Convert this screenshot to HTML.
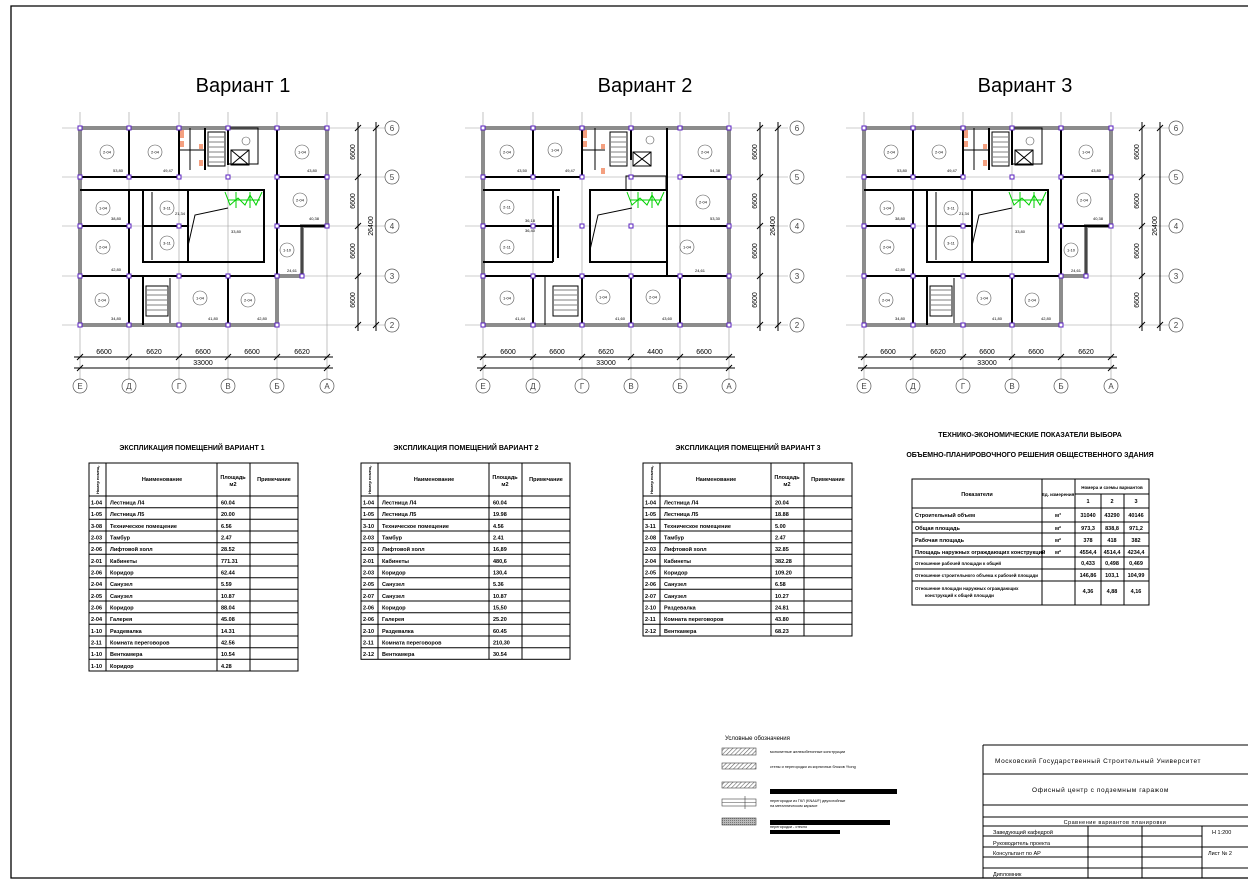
<!DOCTYPE html>
<html><head><meta charset="utf-8"><style>
html,body{margin:0;padding:0;background:#fff;}
svg{display:block;font-family:"Liberation Sans",sans-serif;}
.t{font-size:5.5px;font-weight:bold;fill:#000;}
.s{font-size:4px;fill:#000;}
.d{font-size:7px;fill:#000;}
.g{stroke:#9a9a9a;stroke-width:0.6;fill:none;}
.w{stroke:#000;stroke-width:2;fill:none;}
.tw{stroke:#000;stroke-width:1;fill:none;}
.ow{stroke:#8c8c8c;stroke-width:4;fill:none;}
.c{fill:#fff;stroke:#555;stroke-width:0.6;}
.ax{fill:#fff;stroke:#555;stroke-width:0.7;}
.pq{fill:#fff;stroke:#5a20c0;stroke-width:1;}
.tl{stroke:#000;stroke-width:1;fill:none;}
</style></head><body>
<svg width="1260" height="886" viewBox="0 0 1260 886" xmlns="http://www.w3.org/2000/svg">
<defs>
<pattern id="h" width="3" height="3" patternUnits="userSpaceOnUse" patternTransform="rotate(45)"><rect width="3" height="3" fill="#fff"/><line x1="0" y1="0" x2="0" y2="3" stroke="#666" stroke-width="1.2"/></pattern>
<pattern id="h2" width="2" height="2" patternUnits="userSpaceOnUse"><rect width="2" height="2" fill="#bbb"/><rect width="1" height="1" fill="#777"/></pattern>
</defs>
<rect width="1260" height="886" fill="#fff"/>
<polyline points="1248,6 11,6 11,878 1248,878" fill="none" stroke="#000" stroke-width="1.3"/>

<!-- titles -->
<text x="243" y="92" font-size="20" text-anchor="middle">Вариант 1</text>
<text x="645" y="92" font-size="20" text-anchor="middle">Вариант 2</text>
<text x="1025" y="92" font-size="20" text-anchor="middle">Вариант 3</text>

<!-- ===== PLAN 1 ===== -->
<g id="p1">
<g class="g">
<line x1="80" y1="112" x2="80" y2="379"/><line x1="129" y1="112" x2="129" y2="379"/><line x1="179" y1="112" x2="179" y2="379"/><line x1="228" y1="112" x2="228" y2="379"/><line x1="277" y1="112" x2="277" y2="379"/><line x1="327" y1="112" x2="327" y2="379"/>
<line x1="62" y1="128" x2="385" y2="128"/><line x1="62" y1="177" x2="385" y2="177"/><line x1="62" y1="226" x2="385" y2="226"/><line x1="62" y1="276" x2="385" y2="276"/><line x1="62" y1="325" x2="385" y2="325"/>
</g>
<polygon class="ow" points="80,128 327,128 327,226 302,226 302,276 277,276 277,325 80,325"/>
<g class="w">
<line x1="80" y1="177" x2="179" y2="177"/><line x1="277" y1="177" x2="327" y2="177"/>
<line x1="80" y1="190" x2="143" y2="190"/>
<rect x="143" y="190" width="121" height="72"/>
<line x1="129" y1="128" x2="129" y2="177"/><line x1="179" y1="128" x2="179" y2="177"/>
<line x1="129" y1="190" x2="129" y2="325"/>
<line x1="80" y1="226" x2="129" y2="226"/><line x1="277" y1="226" x2="327" y2="226"/>
<line x1="277" y1="128" x2="277" y2="276"/>
<line x1="80" y1="276" x2="277" y2="276"/>
<line x1="143" y1="276" x2="143" y2="325"/><line x1="228" y1="276" x2="228" y2="325"/>
<line x1="205" y1="128" x2="205" y2="170"/><line x1="228" y1="128" x2="228" y2="165"/>
<line x1="143" y1="226" x2="188" y2="226"/><line x1="188" y1="190" x2="188" y2="262"/>
</g>
<g class="tw">
<line x1="152" y1="192" x2="152" y2="260"/><line x1="302" y1="226" x2="302" y2="276"/>
<polyline points="188,246 195,215 228,208"/>
<line x1="170" y1="278" x2="170" y2="323"/>
<rect x="208" y="132" width="17" height="34"/><rect x="146" y="286" width="22" height="30"/>
<rect x="231" y="150" width="18" height="15"/><line x1="231" y1="150" x2="249" y2="165"/><line x1="249" y1="150" x2="231" y2="165"/>
<line x1="179" y1="150" x2="205" y2="150"/><line x1="190" y1="128" x2="190" y2="170"/>
<rect x="228" y="128" width="30" height="36"/>
</g>
<g stroke="#000" stroke-width="0.5">
<line x1="209" y1="137" x2="224" y2="137"/><line x1="209" y1="142" x2="224" y2="142"/><line x1="209" y1="147" x2="224" y2="147"/><line x1="209" y1="152" x2="224" y2="152"/><line x1="209" y1="157" x2="224" y2="157"/><line x1="209" y1="162" x2="224" y2="162"/>
<line x1="147" y1="290" x2="167" y2="290"/><line x1="147" y1="295" x2="167" y2="295"/><line x1="147" y1="300" x2="167" y2="300"/><line x1="147" y1="305" x2="167" y2="305"/><line x1="147" y1="310" x2="167" y2="310"/>
</g>
<g fill="#f4a080"><rect x="180" y="130" width="4" height="8"/><rect x="180" y="141" width="4" height="6"/><rect x="199" y="144" width="4" height="5"/><rect x="199" y="160" width="4" height="6"/></g>
<g stroke="#00d000" stroke-width="1" fill="none"><polyline points="225,192 230,205 238,198 245,205 250,195 256,205 262,192"/><line x1="236" y1="192" x2="236" y2="208"/><line x1="250" y1="192" x2="250" y2="208"/><line x1="228" y1="200" x2="260" y2="200"/></g>
<g class="c">
<circle cx="107" cy="152" r="7"/><circle cx="155" cy="152" r="7"/><circle cx="302" cy="152" r="7"/><circle cx="300" cy="200" r="7"/><circle cx="103" cy="208" r="7"/><circle cx="103" cy="247" r="7"/><circle cx="102" cy="300" r="7"/><circle cx="200" cy="298" r="7"/><circle cx="248" cy="300" r="7"/><circle cx="167" cy="208" r="7"/><circle cx="167" cy="243" r="7"/><circle cx="287" cy="250" r="7"/><circle cx="246" cy="141" r="4"/>
</g>
<g class="s" text-anchor="middle">
<text x="107" y="153.5">2-04</text><text x="155" y="153.5">2-04</text><text x="302" y="153.5">1-04</text><text x="300" y="201.5">2-04</text><text x="103" y="209.5">1-04</text><text x="103" y="248.5">2-04</text><text x="102" y="301.5">2-04</text><text x="200" y="299.5">1-04</text><text x="248" y="301.5">2-04</text><text x="167" y="209.5">3-11</text><text x="167" y="244.5">3-11</text><text x="287" y="251.5">1-10</text>
<text x="118" y="172">53,80</text><text x="168" y="172">49,47</text><text x="312" y="172">43,80</text><text x="314" y="220">40,38</text><text x="116" y="220">38,80</text><text x="116" y="271">42,80</text><text x="116" y="320">34,80</text><text x="213" y="320">41,80</text><text x="262" y="320">42,80</text><text x="292" y="272">24,61</text><text x="236" y="233">33,80</text><text x="180" y="215">21,34</text>
</g>
<g class="pq">
<rect x="78" y="126" width="4" height="4"/><rect x="127" y="126" width="4" height="4"/><rect x="177" y="126" width="4" height="4"/><rect x="226" y="126" width="4" height="4"/><rect x="275" y="126" width="4" height="4"/><rect x="325" y="126" width="4" height="4"/>
<rect x="78" y="175" width="4" height="4"/><rect x="127" y="175" width="4" height="4"/><rect x="177" y="175" width="4" height="4"/><rect x="226" y="175" width="4" height="4"/><rect x="275" y="175" width="4" height="4"/><rect x="325" y="175" width="4" height="4"/>
<rect x="78" y="224" width="4" height="4"/><rect x="127" y="224" width="4" height="4"/><rect x="177" y="224" width="4" height="4"/><rect x="275" y="224" width="4" height="4"/><rect x="325" y="224" width="4" height="4"/>
<rect x="78" y="274" width="4" height="4"/><rect x="127" y="274" width="4" height="4"/><rect x="177" y="274" width="4" height="4"/><rect x="226" y="274" width="4" height="4"/><rect x="275" y="274" width="4" height="4"/><rect x="300" y="274" width="4" height="4"/>
<rect x="78" y="323" width="4" height="4"/><rect x="127" y="323" width="4" height="4"/><rect x="177" y="323" width="4" height="4"/><rect x="226" y="323" width="4" height="4"/><rect x="275" y="323" width="4" height="4"/>
</g>
<!-- dims -->
<g class="tl" stroke-width="0.8">
<line x1="74" y1="357" x2="333" y2="357"/><line x1="74" y1="368" x2="333" y2="368"/>
<line x1="358" y1="122" x2="358" y2="331"/><line x1="376" y1="122" x2="376" y2="331"/>
<path d="M77,360l6,-6M126,360l6,-6M176,360l6,-6M225,360l6,-6M274,360l6,-6M324,360l6,-6M77,371l6,-6M324,371l6,-6M355,131l6,-6M355,180l6,-6M355,229l6,-6M355,279l6,-6M355,328l6,-6M373,131l6,-6M373,328l6,-6"/>
</g>
<g class="d" text-anchor="middle">
<text x="104" y="354">6600</text><text x="154" y="354">6620</text><text x="203" y="354">6600</text><text x="252" y="354">6600</text><text x="302" y="354">6620</text><text x="203" y="365">33000</text>
<text transform="translate(355,152) rotate(-90)">6600</text><text transform="translate(355,201) rotate(-90)">6600</text><text transform="translate(355,251) rotate(-90)">6600</text><text transform="translate(355,300) rotate(-90)">6600</text><text transform="translate(373,226) rotate(-90)">26400</text>
</g>
<g class="ax"><circle cx="80" cy="386" r="7"/><circle cx="129" cy="386" r="7"/><circle cx="179" cy="386" r="7"/><circle cx="228" cy="386" r="7"/><circle cx="277" cy="386" r="7"/><circle cx="327" cy="386" r="7"/>
<circle cx="392" cy="128" r="7"/><circle cx="392" cy="177" r="7"/><circle cx="392" cy="226" r="7"/><circle cx="392" cy="276" r="7"/><circle cx="392" cy="325" r="7"/></g>
<g font-size="8" fill="#444" text-anchor="middle">
<text x="80" y="389">Е</text><text x="129" y="389">Д</text><text x="179" y="389">Г</text><text x="228" y="389">В</text><text x="277" y="389">Б</text><text x="327" y="389">А</text>
<text x="392" y="131">6</text><text x="392" y="180">5</text><text x="392" y="229">4</text><text x="392" y="279">3</text><text x="392" y="328">2</text>
</g>
</g>

<!-- PLAN 3 reuse -->
<use href="#p1" transform="translate(784,0)"/>

<!-- ===== PLAN 2 ===== -->
<g>
<g class="g">
<line x1="483" y1="112" x2="483" y2="379"/><line x1="533" y1="112" x2="533" y2="379"/><line x1="582" y1="112" x2="582" y2="379"/><line x1="631" y1="112" x2="631" y2="379"/><line x1="680" y1="112" x2="680" y2="379"/><line x1="729" y1="112" x2="729" y2="379"/>
<line x1="465" y1="128" x2="788" y2="128"/><line x1="465" y1="177" x2="788" y2="177"/><line x1="465" y1="226" x2="788" y2="226"/><line x1="465" y1="276" x2="788" y2="276"/><line x1="465" y1="325" x2="788" y2="325"/>
</g>
<rect class="ow" x="483" y="128" width="246" height="197"/>
<g class="w">
<line x1="483" y1="177" x2="582" y2="177"/><line x1="680" y1="177" x2="729" y2="177"/>
<line x1="483" y1="190" x2="560" y2="190"/>
<line x1="483" y1="226" x2="553" y2="226"/><line x1="483" y1="262" x2="553" y2="262"/>
<line x1="553" y1="190" x2="553" y2="262"/><line x1="558" y1="196" x2="558" y2="258"/>
<rect x="590" y="190" width="77" height="72"/>
<line x1="667" y1="190" x2="667" y2="276"/><line x1="667" y1="226" x2="729" y2="226"/>
<line x1="483" y1="276" x2="729" y2="276"/>
<line x1="533" y1="128" x2="533" y2="177"/><line x1="582" y1="128" x2="582" y2="177"/>
<line x1="533" y1="276" x2="533" y2="325"/><line x1="582" y1="276" x2="582" y2="325"/><line x1="631" y1="276" x2="631" y2="325"/><line x1="680" y1="276" x2="680" y2="325"/>
<line x1="631" y1="128" x2="631" y2="160"/><line x1="667" y1="128" x2="667" y2="190"/>
</g>
<g class="tw">
<polyline points="590,250 598,215 632,208"/>
<rect x="610" y="132" width="17" height="34"/><rect x="553" y="286" width="25" height="30"/>
<rect x="633" y="152" width="18" height="14"/><line x1="633" y1="152" x2="651" y2="166"/><line x1="651" y1="152" x2="633" y2="166"/>
<line x1="582" y1="150" x2="605" y2="150"/><line x1="595" y1="128" x2="595" y2="170"/><line x1="545" y1="276" x2="545" y2="325"/>
<rect x="626" y="176" width="40" height="14"/>
</g>
<g stroke="#000" stroke-width="0.5">
<line x1="611" y1="137" x2="626" y2="137"/><line x1="611" y1="142" x2="626" y2="142"/><line x1="611" y1="147" x2="626" y2="147"/><line x1="611" y1="152" x2="626" y2="152"/><line x1="611" y1="157" x2="626" y2="157"/><line x1="611" y1="162" x2="626" y2="162"/>
<line x1="554" y1="290" x2="577" y2="290"/><line x1="554" y1="295" x2="577" y2="295"/><line x1="554" y1="300" x2="577" y2="300"/><line x1="554" y1="305" x2="577" y2="305"/><line x1="554" y1="310" x2="577" y2="310"/>
</g>
<g fill="#f4a080"><rect x="583" y="130" width="4" height="8"/><rect x="583" y="141" width="4" height="6"/><rect x="601" y="144" width="4" height="5"/><rect x="601" y="168" width="4" height="6"/></g>
<g stroke="#00d000" stroke-width="1" fill="none"><polyline points="627,192 632,205 640,198 647,205 652,195 658,205 664,192"/><line x1="638" y1="192" x2="638" y2="208"/><line x1="652" y1="192" x2="652" y2="208"/><line x1="630" y1="200" x2="662" y2="200"/></g>
<g class="c">
<circle cx="507" cy="152" r="7"/><circle cx="555" cy="150" r="7"/><circle cx="705" cy="152" r="7"/><circle cx="703" cy="202" r="7"/><circle cx="507" cy="207" r="7"/><circle cx="507" cy="247" r="7"/><circle cx="507" cy="298" r="7"/><circle cx="603" cy="297" r="7"/><circle cx="653" cy="297" r="7"/><circle cx="687" cy="247" r="7"/><circle cx="650" cy="140" r="4"/>
</g>
<g class="s" text-anchor="middle">
<text x="507" y="153.5">2-04</text><text x="555" y="151.5">1-04</text><text x="705" y="153.5">2-04</text><text x="703" y="203.5">2-04</text><text x="507" y="208.5">2-11</text><text x="507" y="248.5">2-11</text><text x="507" y="299.5">1-04</text><text x="603" y="298.5">1-04</text><text x="653" y="298.5">2-04</text><text x="687" y="248.5">1-04</text>
<text x="522" y="172">43,50</text><text x="570" y="172">49,47</text><text x="715" y="172">54,38</text><text x="715" y="220">53,30</text><text x="530" y="222">36,18</text><text x="530" y="232">36,40</text><text x="520" y="320">41,44</text><text x="620" y="320">41,60</text><text x="667" y="320">43,60</text><text x="700" y="272">24,61</text>
</g>
<g class="pq">
<rect x="481" y="126" width="4" height="4"/><rect x="531" y="126" width="4" height="4"/><rect x="580" y="126" width="4" height="4"/><rect x="629" y="126" width="4" height="4"/><rect x="678" y="126" width="4" height="4"/><rect x="727" y="126" width="4" height="4"/>
<rect x="481" y="175" width="4" height="4"/><rect x="531" y="175" width="4" height="4"/><rect x="580" y="175" width="4" height="4"/><rect x="629" y="175" width="4" height="4"/><rect x="678" y="175" width="4" height="4"/><rect x="727" y="175" width="4" height="4"/>
<rect x="481" y="224" width="4" height="4"/><rect x="531" y="224" width="4" height="4"/><rect x="580" y="224" width="4" height="4"/><rect x="629" y="224" width="4" height="4"/><rect x="727" y="224" width="4" height="4"/>
<rect x="481" y="274" width="4" height="4"/><rect x="531" y="274" width="4" height="4"/><rect x="580" y="274" width="4" height="4"/><rect x="629" y="274" width="4" height="4"/><rect x="678" y="274" width="4" height="4"/><rect x="727" y="274" width="4" height="4"/>
<rect x="481" y="323" width="4" height="4"/><rect x="531" y="323" width="4" height="4"/><rect x="580" y="323" width="4" height="4"/><rect x="629" y="323" width="4" height="4"/><rect x="678" y="323" width="4" height="4"/><rect x="727" y="323" width="4" height="4"/>
</g>
<g class="tl" stroke-width="0.8">
<line x1="477" y1="357" x2="735" y2="357"/><line x1="477" y1="368" x2="735" y2="368"/>
<line x1="760" y1="122" x2="760" y2="331"/><line x1="778" y1="122" x2="778" y2="331"/>
<path d="M480,360l6,-6M530,360l6,-6M579,360l6,-6M628,360l6,-6M677,360l6,-6M726,360l6,-6M480,371l6,-6M726,371l6,-6M757,131l6,-6M757,180l6,-6M757,229l6,-6M757,279l6,-6M757,328l6,-6M775,131l6,-6M775,328l6,-6"/>
</g>
<g class="d" text-anchor="middle">
<text x="508" y="354">6600</text><text x="557" y="354">6600</text><text x="606" y="354">6620</text><text x="655" y="354">4400</text><text x="704" y="354">6600</text><text x="606" y="365">33000</text>
<text transform="translate(757,152) rotate(-90)">6600</text><text transform="translate(757,201) rotate(-90)">6600</text><text transform="translate(757,251) rotate(-90)">6600</text><text transform="translate(757,300) rotate(-90)">6600</text><text transform="translate(775,226) rotate(-90)">26400</text>
</g>
<g class="ax"><circle cx="483" cy="386" r="7"/><circle cx="533" cy="386" r="7"/><circle cx="582" cy="386" r="7"/><circle cx="631" cy="386" r="7"/><circle cx="680" cy="386" r="7"/><circle cx="729" cy="386" r="7"/>
<circle cx="797" cy="128" r="7"/><circle cx="797" cy="177" r="7"/><circle cx="797" cy="226" r="7"/><circle cx="797" cy="276" r="7"/><circle cx="797" cy="325" r="7"/></g>
<g font-size="8" fill="#444" text-anchor="middle">
<text x="483" y="389">Е</text><text x="533" y="389">Д</text><text x="582" y="389">Г</text><text x="631" y="389">В</text><text x="680" y="389">Б</text><text x="729" y="389">А</text>
<text x="797" y="131">6</text><text x="797" y="180">5</text><text x="797" y="229">4</text><text x="797" y="279">3</text><text x="797" y="328">2</text>
</g>
</g>

<!-- ===== TABLE 1 ===== -->
<text x="192" y="450" font-size="7" font-weight="bold" text-anchor="middle">ЭКСПЛИКАЦИЯ ПОМЕЩЕНИЙ ВАРИАНТ 1</text>
<g class="tl">
<rect x="89" y="463" width="209" height="208"/>
<path d="M106,463V671M217,463V671M250,463V671M89,496H298M89,507.7H298M89,519.3H298M89,531H298M89,542.7H298M89,554.3H298M89,566H298M89,577.7H298M89,589.3H298M89,601H298M89,612.7H298M89,624.3H298M89,636H298M89,647.7H298M89,659.3H298"/>
</g>
<g class="t">
<text transform="translate(99,494) rotate(-90)" font-size="4">Номер помещ.</text>
<text x="162" y="481" text-anchor="middle">Наименование</text><text x="233" y="479" text-anchor="middle">Площадь</text><text x="233" y="486" text-anchor="middle">м2</text><text x="274" y="481" text-anchor="middle">Примечание</text>
<text x="91" y="504.5">1-04</text><text x="110" y="504.5">Лестница Л4</text><text x="221" y="504.5">60.04</text>
<text x="91" y="516">1-05</text><text x="110" y="516">Лестница Л5</text><text x="221" y="516">20.00</text>
<text x="91" y="528">3-08</text><text x="110" y="528">Техническое помещение</text><text x="221" y="528">6.56</text>
<text x="91" y="539.5">2-03</text><text x="110" y="539.5">Тамбур</text><text x="221" y="539.5">2.47</text>
<text x="91" y="551">2-06</text><text x="110" y="551">Лифтовой холл</text><text x="221" y="551">28.52</text>
<text x="91" y="563">2-01</text><text x="110" y="563">Кабинеты</text><text x="221" y="563">771.31</text>
<text x="91" y="574.5">2-06</text><text x="110" y="574.5">Коридор</text><text x="221" y="574.5">62.44</text>
<text x="91" y="586">2-04</text><text x="110" y="586">Санузел</text><text x="221" y="586">5.59</text>
<text x="91" y="598">2-05</text><text x="110" y="598">Санузел</text><text x="221" y="598">10.87</text>
<text x="91" y="609.5">2-06</text><text x="110" y="609.5">Коридор</text><text x="221" y="609.5">88.04</text>
<text x="91" y="621">2-04</text><text x="110" y="621">Галерея</text><text x="221" y="621">45.08</text>
<text x="91" y="633">1-10</text><text x="110" y="633">Раздевалка</text><text x="221" y="633">14.31</text>
<text x="91" y="644.5">2-11</text><text x="110" y="644.5">Комната переговоров</text><text x="221" y="644.5">42.56</text>
<text x="91" y="656">1-10</text><text x="110" y="656">Венткамера</text><text x="221" y="656">10.54</text>
<text x="91" y="668">1-10</text><text x="110" y="668">Коридор</text><text x="221" y="668">4.28</text>
</g>

<!-- ===== TABLE 2 ===== -->
<text x="466" y="450" font-size="7" font-weight="bold" text-anchor="middle">ЭКСПЛИКАЦИЯ ПОМЕЩЕНИЙ ВАРИАНТ 2</text>
<g class="tl">
<rect x="361" y="463" width="209" height="196.3"/>
<path d="M378,463V659.3M489,463V659.3M522,463V659.3M361,496H570M361,507.7H570M361,519.3H570M361,531H570M361,542.7H570M361,554.3H570M361,566H570M361,577.7H570M361,589.3H570M361,601H570M361,612.7H570M361,624.3H570M361,636H570M361,647.7H570"/>
</g>
<g class="t">
<text transform="translate(371,494) rotate(-90)" font-size="4">Номер помещ.</text>
<text x="434" y="481" text-anchor="middle">Наименование</text><text x="505" y="479" text-anchor="middle">Площадь</text><text x="505" y="486" text-anchor="middle">м2</text><text x="546" y="481" text-anchor="middle">Примечание</text>
<text x="363" y="504.5">1-04</text><text x="382" y="504.5">Лестница Л4</text><text x="493" y="504.5">60.04</text>
<text x="363" y="516">1-05</text><text x="382" y="516">Лестница Л5</text><text x="493" y="516">19.98</text>
<text x="363" y="528">3-10</text><text x="382" y="528">Техническое помещение</text><text x="493" y="528">4.56</text>
<text x="363" y="539.5">2-03</text><text x="382" y="539.5">Тамбур</text><text x="493" y="539.5">2.41</text>
<text x="363" y="551">2-03</text><text x="382" y="551">Лифтовой холл</text><text x="493" y="551">16,89</text>
<text x="363" y="563">2-01</text><text x="382" y="563">Кабинеты</text><text x="493" y="563">480,6</text>
<text x="363" y="574.5">2-03</text><text x="382" y="574.5">Коридор</text><text x="493" y="574.5">130,4</text>
<text x="363" y="586">2-05</text><text x="382" y="586">Санузел</text><text x="493" y="586">5.36</text>
<text x="363" y="598">2-07</text><text x="382" y="598">Санузел</text><text x="493" y="598">10.87</text>
<text x="363" y="609.5">2-06</text><text x="382" y="609.5">Коридор</text><text x="493" y="609.5">15,50</text>
<text x="363" y="621">2-06</text><text x="382" y="621">Галерея</text><text x="493" y="621">25.20</text>
<text x="363" y="633">2-10</text><text x="382" y="633">Раздевалка</text><text x="493" y="633">60.45</text>
<text x="363" y="644.5">2-11</text><text x="382" y="644.5">Комната переговоров</text><text x="493" y="644.5">210,30</text>
<text x="363" y="656">2-12</text><text x="382" y="656">Венткамера</text><text x="493" y="656">30.54</text>
</g>

<!-- ===== TABLE 3 ===== -->
<text x="748" y="450" font-size="7" font-weight="bold" text-anchor="middle">ЭКСПЛИКАЦИЯ ПОМЕЩЕНИЙ ВАРИАНТ 3</text>
<g class="tl">
<rect x="643" y="463" width="209" height="173"/>
<path d="M660,463V636M771,463V636M804,463V636M643,496H852M643,507.7H852M643,519.3H852M643,531H852M643,542.7H852M643,554.3H852M643,566H852M643,577.7H852M643,589.3H852M643,601H852M643,612.7H852M643,624.3H852"/>
</g>
<g class="t">
<text transform="translate(653,494) rotate(-90)" font-size="4">Номер помещ.</text>
<text x="716" y="481" text-anchor="middle">Наименование</text><text x="787" y="479" text-anchor="middle">Площадь</text><text x="787" y="486" text-anchor="middle">м2</text><text x="828" y="481" text-anchor="middle">Примечание</text>
<text x="645" y="504.5">1-04</text><text x="664" y="504.5">Лестница Л4</text><text x="775" y="504.5">20.04</text>
<text x="645" y="516">1-05</text><text x="664" y="516">Лестница Л5</text><text x="775" y="516">18.88</text>
<text x="645" y="528">3-11</text><text x="664" y="528">Техническое помещение</text><text x="775" y="528">5.00</text>
<text x="645" y="539.5">2-08</text><text x="664" y="539.5">Тамбур</text><text x="775" y="539.5">2.47</text>
<text x="645" y="551">2-03</text><text x="664" y="551">Лифтовой холл</text><text x="775" y="551">32.85</text>
<text x="645" y="563">2-04</text><text x="664" y="563">Кабинеты</text><text x="775" y="563">382.28</text>
<text x="645" y="574.5">2-05</text><text x="664" y="574.5">Коридор</text><text x="775" y="574.5">109.20</text>
<text x="645" y="586">2-06</text><text x="664" y="586">Санузел</text><text x="775" y="586">6.58</text>
<text x="645" y="598">2-07</text><text x="664" y="598">Санузел</text><text x="775" y="598">10.27</text>
<text x="645" y="609.5">2-10</text><text x="664" y="609.5">Раздевалка</text><text x="775" y="609.5">24.81</text>
<text x="645" y="621">2-11</text><text x="664" y="621">Комната переговоров</text><text x="775" y="621">43.80</text>
<text x="645" y="633">2-12</text><text x="664" y="633">Венткамера</text><text x="775" y="633">68.23</text>
</g>

<!-- ===== TABLE 4 ===== -->
<text x="1030" y="437" font-size="7" font-weight="bold" text-anchor="middle">ТЕХНИКО-ЭКОНОМИЧЕСКИЕ ПОКАЗАТЕЛИ ВЫБОРА</text>
<text x="1030" y="457" font-size="7" font-weight="bold" text-anchor="middle">ОБЪЕМНО-ПЛАНИРОВОЧНОГО РЕШЕНИЯ ОБЩЕСТВЕННОГО ЗДАНИЯ</text>
<g class="tl">
<rect x="912" y="479" width="237" height="126"/>
<path d="M1042,479V605M1075,479V605M1075,494H1149M1101,494V605M1124,494V605M912,508H1149M912,522H1149M912,533H1149M912,546H1149M912,557H1149M912,569H1149M912,581H1149"/>
</g>
<g class="t">
<text x="977" y="496" text-anchor="middle">Показатели</text><text x="1058" y="496" text-anchor="middle" font-size="4.5">Ед. измерения</text>
<text x="1112" y="489" text-anchor="middle" font-size="4.5">Номера и схемы вариантов</text>
<text x="1088" y="503" text-anchor="middle">1</text><text x="1112" y="503" text-anchor="middle">2</text><text x="1136" y="503" text-anchor="middle">3</text>
<text x="915" y="517">Строительный объем</text><text x="1058" y="517" text-anchor="middle">м³</text><text x="1088" y="517" text-anchor="middle">31040</text><text x="1112" y="517" text-anchor="middle">43290</text><text x="1136" y="517" text-anchor="middle">40146</text>
<text x="915" y="530">Общая площадь</text><text x="1058" y="530" text-anchor="middle">м²</text><text x="1088" y="530" text-anchor="middle">973,3</text><text x="1112" y="530" text-anchor="middle">838,8</text><text x="1136" y="530" text-anchor="middle">971,2</text>
<text x="915" y="542">Рабочая площадь</text><text x="1058" y="542" text-anchor="middle">м²</text><text x="1088" y="542" text-anchor="middle">378</text><text x="1112" y="542" text-anchor="middle">418</text><text x="1136" y="542" text-anchor="middle">382</text>
<text x="915" y="554">Площадь наружных ограждающих конструкций</text><text x="1058" y="554" text-anchor="middle">м²</text><text x="1088" y="554" text-anchor="middle">4554,4</text><text x="1112" y="554" text-anchor="middle">4514,4</text><text x="1136" y="554" text-anchor="middle">4234,4</text>
<text x="915" y="565" font-size="4.5">Отношение рабочей площади к общей</text><text x="1088" y="565" text-anchor="middle">0,433</text><text x="1112" y="565" text-anchor="middle">0,498</text><text x="1136" y="565" text-anchor="middle">0,469</text>
<text x="915" y="577" font-size="4.5">Отношение строительного объема к рабочей площади</text><text x="1088" y="577" text-anchor="middle">146,86</text><text x="1112" y="577" text-anchor="middle">103,1</text><text x="1136" y="577" text-anchor="middle">104,99</text>
<text x="915" y="590" font-size="4.5">Отношение площади наружных ограждающих</text><text x="925" y="597" font-size="4.5">конструкций к общей площади</text><text x="1088" y="593" text-anchor="middle">4,36</text><text x="1112" y="593" text-anchor="middle">4,88</text><text x="1136" y="593" text-anchor="middle">4,16</text>
</g>

<!-- ===== LEGEND ===== -->
<text x="725" y="740" font-size="6">Условные обозначения</text>
<rect x="722" y="748" width="34" height="7" fill="url(#h)" stroke="#444" stroke-width="0.6"/>
<rect x="722" y="763" width="34" height="6" fill="url(#h)" stroke="#444" stroke-width="0.6"/>
<rect x="722" y="782" width="34" height="6" fill="url(#h)" stroke="#444" stroke-width="0.6"/>
<g stroke="#444" stroke-width="0.6" fill="none"><rect x="722" y="799" width="34" height="7"/><line x1="745" y1="796" x2="745" y2="809"/><line x1="722" y1="802.5" x2="756" y2="802.5"/></g>
<rect x="722" y="818" width="34" height="7" fill="url(#h2)" stroke="#444" stroke-width="0.6"/>
<g font-size="3.8" fill="#000">
<text x="770" y="753">монолитные железобетонные конструкции</text>
<text x="770" y="768">стены и перегородки из кирпичных блоков Ytong</text>
<text x="770" y="802">перегородки из ГКЛ (KNAUF) двухслойные</text>
<text x="770" y="807">на металлическом каркасе</text>
<text x="770" y="828">перегородки - стекло</text>
</g>
<rect x="770" y="789" width="127" height="5" fill="#000"/>
<rect x="770" y="820" width="120" height="5" fill="#000"/>
<rect x="770" y="830" width="70" height="4" fill="#000"/>

<!-- ===== TITLE BLOCK ===== -->
<g class="tl">
<path d="M983,745H1248M983,745V878M983,774H1248M983,805H1248M983,817H1248M983,826H1248M983,836H1202M983,847H1248M983,857H1202M983,868H1248M1088,826V878M1142,826V878M1202,826V878"/>
</g>
<g font-size="6.5" fill="#000">
<text x="995" y="763" letter-spacing="0.6">Московский Государственный Строительный Университет</text>
<text x="1032" y="792" letter-spacing="0.6">Офисный центр с подземным гаражом</text>
<text x="1115" y="824" font-size="5.5" text-anchor="middle" letter-spacing="0.5">Сравнение вариантов планировки</text>
<g font-size="5.5"><text x="993" y="834">Заведующий кафедрой</text><text x="993" y="845">Руководитель проекта</text><text x="993" y="855">Консультант по АР</text><text x="993" y="876">Дипломник</text>
<text x="1212" y="834">Н 1:200</text><text x="1208" y="855">Лист № 2</text></g>
</g>
</svg>
</body></html>
